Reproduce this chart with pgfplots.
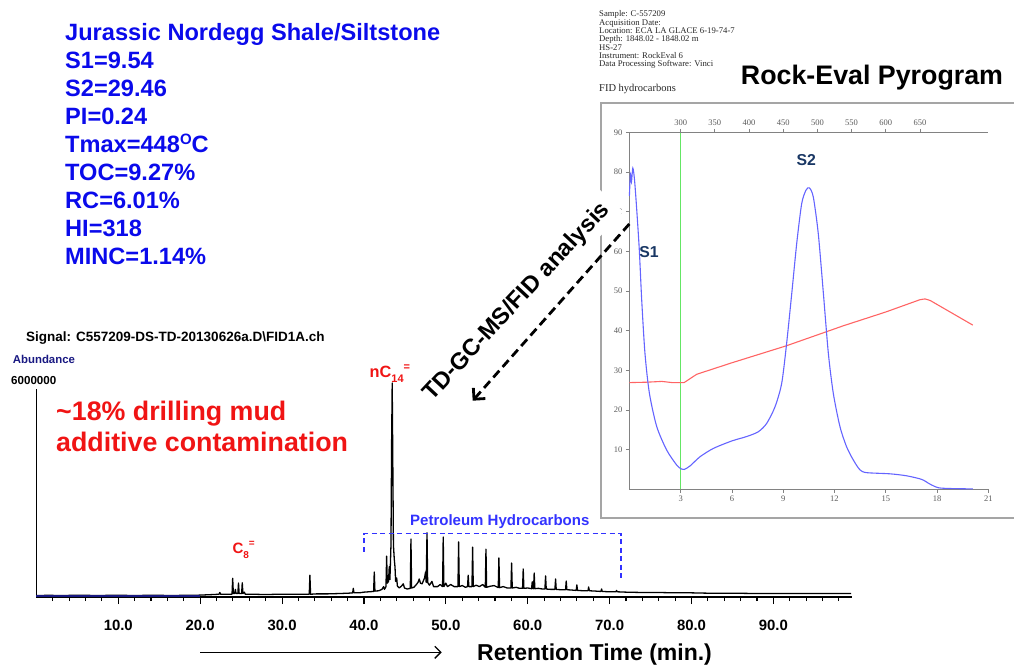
\documentclass[border=0pt]{standalone}
\usepackage{fontspec}
\setmainfont{Liberation Sans}
\newfontfamily\serif{Liberation Serif}
\usepackage{pgfplots}
\pgfplotsset{compat=1.18}
\usetikzlibrary{arrows.meta}

\definecolor{parblue}{RGB}{10,10,235}
\definecolor{annred}{RGB}{240,20,20}
\definecolor{navy}{RGB}{25,25,130}
\definecolor{pyblue}{RGB}{100,100,255}
\definecolor{pyred}{RGB}{255,100,100}
\definecolor{pygreen}{RGB}{100,230,100}
\definecolor{pyaxis}{RGB}{130,130,130}
\definecolor{pyframe}{RGB}{165,165,165}
\definecolor{pylab}{RGB}{90,90,90}
\definecolor{slabel}{RGB}{25,55,100}
\definecolor{hcblue}{RGB}{50,50,255}
\newcommand\fs[1]{\fontsize{#1}{#1}\selectfont}

\begin{document}
\begin{tikzpicture}[t/.style={anchor=base west, inner sep=0pt}]
\path[use as bounding box] (0pt,0pt) rectangle (1014pt,664pt);

% ---------------- Rock-Eval parameters ----------------
\begin{scope}[every node/.style={t, text=parblue, font=\bfseries\fs{23.6}}]
\node at (65pt,623.8pt) {Jurassic Nordegg Shale/Siltstone};
\node at (65pt,595.7pt) {S1=9.54};
\node at (65pt,567.6pt) {S2=29.46};
\node at (65pt,539.5pt) {PI=0.24};
\node at (65pt,511.4pt) {Tmax=448\raisebox{0.33em}{\fs{15}O}C};
\node at (65pt,483.3pt) {TOC=9.27\%};
\node at (65pt,455.2pt) {RC=6.01\%};
\node at (65pt,427.1pt) {HI=318};
\node at (65pt,399.0pt) {MINC=1.14\%};
\end{scope}

% ---------------- Pyrogram header ----------------
\begin{scope}[every node/.style={t, text=black!85, font=\serif\fs{8.7}}]
\node at (599pt,647.0pt) {Sample: C-557209};
\node at (599pt,638.7pt) {Acquisition Date:};
\node at (599pt,630.4pt) {Location: ECA LA GLACE 6-19-74-7};
\node at (599pt,622.1pt) {Depth: 1848.02 - 1848.02 m};
\node at (599pt,613.8pt) {HS-27};
\node at (599pt,605.5pt) {Instrument: RockEval 6};
\node at (599pt,597.2pt) {Data Processing Software: Vinci};
\end{scope}
\node[t, text=black!85, font=\serif\fs{10.5}] at (599pt,572pt) {FID hydrocarbons};
\node[anchor=base, inner sep=0pt, font=\bfseries\fs{26.8}] at (872pt,579.4pt) {Rock-Eval Pyrogram};

% frame of the pyrogram panel
\draw[pyframe, line width=1.8pt] (1014pt,560.7pt) -- (600.7pt,560.7pt) -- (600.7pt,145.7pt) -- (1014pt,145.7pt);

% ---------------- Pyrogram ----------------
\begin{scope}[shift={(629.4pt,174.7pt)}]
\begin{axis}[
  at={(0pt,0pt)}, anchor=origin, scale only axis,
  width=358.9pt, height=357pt,
  xmin=0, xmax=21, ymin=0, ymax=90,
  axis x line*=bottom, axis y line*=left,
  axis line style={-, pyaxis, line width=1.4pt},
  xtick={3,6,...,21}, ytick={10,20,...,90},
  tick align=outside, major tick length=3.5pt,
  tick style={pyaxis, line width=0.8pt},
  tick label style={font=\serif\fs{8.5}, text=pylab},
  /pgf/number format/assume math mode=true,
  clip=false,
]
\addplot[pygreen, line width=1pt] coordinates {(3,0) (3,90)};
\addplot[pyred, line width=1.1pt] coordinates {
  (0,26.9) (1.0,27.0) (1.9,27.2) (2.5,26.9) (3.2,26.9) (3.94,29.0) (6,31.9)
  (9.2,36.2) (12.5,41.2) (15,44.7) (17.0,47.8) (17.3,48.0) (17.6,47.6) (20.09,41.4)};
\addplot[pyblue, line width=1.1pt, smooth, tension=0.45] coordinates {
  (0,74) (0.06,79.5) (0.12,77.5) (0.2,81) (0.3,78) (0.43,70.4) (0.58,60.3)
  (0.72,47.7) (0.91,34.3) (1.17,24.2) (1.6,15.8) (2.18,9.9) (2.77,6.1)
  (3.05,5.1) (3.21,5.0) (3.55,5.9) (4.13,8.2) (4.91,10.3) (6.0,12.2)
  (6.86,13.3) (7.54,14.5) (8.03,16.6) (8.52,20.8) (8.91,26.7) (9.2,36.8)
  (9.5,49.4) (9.79,62.0) (10.08,72.0) (10.33,75.4) (10.53,76.0) (10.76,73.7)
  (11.05,64.5) (11.35,49.4) (11.64,34.3) (11.93,24.2) (12.32,15.8)
  (12.71,10.7) (13.1,7.4) (13.49,4.9) (13.88,4.2) (15.25,3.9) (16.22,3.4)
  (17.1,2.5) (17.59,1.3) (18.07,0.4) (18.75,0.2) (20.09,0.1)};
\end{axis}
% temperature scale along the top
\begin{axis}[
  at={(0pt,0pt)}, anchor=origin, scale only axis,
  width=358.9pt, height=357pt,
  xmin=0, xmax=21, ymin=0, ymax=90,
  axis x line*=top, axis y line=none,
  axis line style={-, pyaxis, line width=1.4pt},
  xtick={3,5,...,17}, xticklabels={300,350,400,450,500,550,600,650},
  tick align=outside, major tick length=3.5pt,
  tick style={pyaxis, line width=0.8pt},
  tick label style={font=\serif\fs{8.5}, text=pylab},
]
\addplot[draw=none] coordinates {(0,0)};
\end{axis}
\end{scope}
\node[font=\bfseries\fs{15.8}, text=slabel] at (649pt,412.3pt) {S1};
\node[font=\bfseries\fs{15.8}, text=slabel] at (806.3pt,504pt) {S2};

% ---------------- link between the panels ----------------
\node[rotate=47, fill=white, inner xsep=8pt, inner ysep=5pt, font=\bfseries\fs{23.5}] at (517pt,362pt) {TD-GC-MS/FID analysis};
\draw[line width=2.8pt, dash pattern=on 9pt off 5pt,
  -{Straight Barb[length=8pt,width=16pt]}] (629.3pt,440pt) -- (472.7pt,263.3pt);

% ---------------- Chromatogram ----------------
\node[t, font=\bfseries\fs{13.5}] at (26pt,322.2pt) {Signal: C557209-DS-TD-20130626a.D\textbackslash FID1A.ch};
\node[t, font=\bfseries\fs{11.4}, text=navy] at (12.7pt,300pt) {Abundance};
\node[t, font=\bfseries\fs{11.6}] at (11pt,279.8pt) {6000000};

\begin{scope}[shift={(36.4pt,67pt)}]
\begin{axis}[
  at={(0pt,0pt)}, anchor=origin, scale only axis,
  width=815.6pt, height=208pt,
  xmin=0, xmax=99.6, ymin=0, ymax=6,
  axis x line*=bottom, axis y line*=left,
  axis line style={-, black, line width=1.6pt},
  xtick={10,20,...,90},
  xticklabels={10.0,20.0,30.0,40.0,50.0,60.0,70.0,80.0,90.0},
  minor xtick={2,4,...,98},
  ytick=\empty,
  minor ytick={0.557,1.114,1.671,2.228,2.785,3.342,3.899,4.456,5.013,5.570},
  tick align=outside, major tick length=7pt, minor tick length=4pt,
  tick style={black, line width=1.1pt},
  xticklabel style={font=\bfseries\fs{14.9}, yshift=-13pt},
  clip=false,
]
\addplot[black, line width=1.3pt, line join=round] coordinates {
  (0,0.04) (1.5,0.05) (3,0.04) (4.5,0.05) (6,0.05) (7.5,0.04) (9,0.05)
  (10.5,0.05) (12,0.04) (13.5,0.05) (15,0.05) (16.5,0.04) (18,0.05)
  (19.5,0.05) (20.5,0.06) (21.5,0.07) (22.3,0.08) (22.4,0.13) (22.5,0.08)
  (23.3,0.08) (23.89,0.08) (23.97,0.54) (24.05,0.1) (24.2,0.1) (24.3,0.22)
  (24.38,0.1) (24.6,0.1) (24.68,0.4) (24.76,0.1) (25.06,0.1) (25.14,0.41)
  (25.22,0.1) (25.4,0.14) (25.5,0.08) (26.5,0.08) (28,0.07) (29.5,0.08)
  (31,0.08) (32.5,0.08) (33.32,0.08) (33.4,0.63) (33.48,0.08) (34.2,0.09)
  (35.5,0.09) (37,0.1) (38.1,0.11) (38.62,0.12) (38.7,0.25) (38.78,0.12)
  (39.4,0.12) (40.0,0.14) (40.6,0.15) (41.18,0.16) (41.26,0.72) (41.34,0.17)
  (41.8,0.18) (42.2,0.22) (42.4,0.3) (42.5,0.22) (42.69,0.3) (42.77,1.18)
  (42.85,0.4) (43.0,0.45) (43.09,0.87) (43.17,0.5) (43.3,1.5) (43.38,4.5)
  (43.45,6.17) (43.52,4.0) (43.6,1.5) (43.7,1.1) (43.79,0.87) (43.87,0.45)
  (44.0,0.55) (44.08,0.32) (44.3,0.26) (44.6,0.32) (44.8,0.38) (44.95,0.26)
  (45.3,0.23) (45.66,0.25) (45.74,1.67) (45.82,0.26) (46.1,0.28) (46.4,0.36)
  (46.6,0.42) (46.75,0.52) (46.9,0.4) (47.1,0.38) (47.4,0.55) (47.52,0.72)
  (47.6,0.42) (47.7,1.85) (47.78,0.42) (48.0,0.34) (48.3,0.45) (48.5,0.3)
  (49.0,0.3) (49.3,0.36) (49.6,0.3) (49.68,1.73) (49.76,0.3) (50.0,0.4)
  (50.2,0.3) (50.6,0.36) (51.0,0.3) (51.48,0.3) (51.56,1.59) (51.64,0.3)
  (52.0,0.33) (52.4,0.28) (52.65,0.3) (52.73,0.63) (52.81,0.3) (53.19,0.3)
  (53.27,1.44) (53.35,0.3) (53.7,0.34) (54.1,0.3) (54.5,0.36) (54.82,0.28)
  (54.9,1.38) (54.98,0.28) (55.4,0.31) (55.9,0.33) (56.4,0.27) (56.48,1.13)
  (56.56,0.27) (57.0,0.3) (57.5,0.26) (57.95,0.26) (58.03,0.98) (58.11,0.26)
  (58.6,0.28) (59.0,0.25) (59.37,0.25) (59.45,0.81) (59.53,0.25) (60.0,0.26)
  (60.47,0.24) (60.55,0.44) (60.63,0.24) (60.71,0.24) (60.79,0.69) (60.87,0.24)
  (61.3,0.25) (61.8,0.23) (62.1,0.23) (62.18,0.61) (62.26,0.23) (62.8,0.22)
  (63.32,0.22) (63.4,0.52) (63.48,0.22) (64.0,0.21) (64.62,0.21) (64.7,0.46)
  (64.78,0.21) (65.4,0.2) (65.92,0.19) (66.0,0.35) (66.08,0.19) (66.8,0.18)
  (67.36,0.18) (67.44,0.29) (67.52,0.18) (68.3,0.17) (68.94,0.16) (69.02,0.23)
  (69.1,0.16) (70.0,0.15) (70.77,0.15) (70.85,0.19) (70.93,0.15) (72,0.14)
  (74,0.13) (76,0.13) (78,0.12) (80,0.12) (82,0.11) (85,0.11) (88,0.1)
  (91,0.1) (94,0.1) (97,0.1) (99.5,0.1)};
\addplot[navy, line width=1.3pt] coordinates {(0,0.03) (20,0.03)};
\end{axis}
\end{scope}

% annotations of the chromatogram
\node[t, font=\bfseries\fs{26.8}, text=annred] at (56pt,243.4pt) {\textasciitilde18\% drilling mud};
\node[t, font=\bfseries\fs{26.8}, text=annred] at (56pt,212.4pt) {additive contamination};
\node[t, font=\bfseries\fs{16.3}, text=annred] at (369.5pt,286.5pt)
  {nC\raisebox{-0.3em}{\fs{11}14}\raisebox{0.45em}{\fs{11}=}};
\node[t, font=\bfseries\fs{15}, text=annred] at (232.3pt,110.3pt)
  {C\raisebox{-0.3em}{\fs{10}8}\raisebox{0.45em}{\fs{10}=}};
\node[t, font=\bfseries\fs{15}, text=hcblue] at (410pt,138.6pt) {Petroleum Hydrocarbons};
\draw[hcblue, line width=1.2pt, dash pattern=on 5pt off 3.5pt]
  (364pt,112.3pt) -- (364pt,130.3pt) -- (621pt,130.3pt) -- (621pt,83pt);

\draw[line width=1.3pt, -{Straight Barb[length=6pt,width=12pt]}] (200pt,11.7pt) -- (441.7pt,11.7pt);
\node[t, font=\bfseries\fs{23}] at (477pt,3.5pt) {Retention Time (min.)};
\end{tikzpicture}
\end{document}
